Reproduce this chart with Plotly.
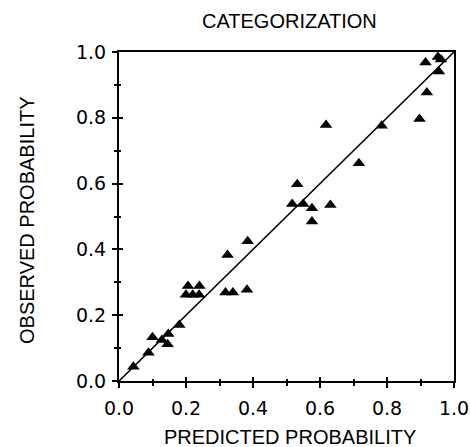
import plotly.graph_objects as go

predicted = [0.043, 0.088, 0.100, 0.128, 0.147, 0.145, 0.180, 0.200, 0.206, 0.220,
             0.240, 0.239, 0.318, 0.324, 0.340, 0.382, 0.384, 0.517, 0.532, 0.550,
             0.576, 0.576, 0.618, 0.631, 0.716, 0.784, 0.897, 0.915, 0.919, 0.952,
             0.961, 0.955]
observed = [0.043, 0.086, 0.133, 0.125, 0.143, 0.112, 0.170, 0.262, 0.289, 0.262,
            0.289, 0.262, 0.269, 0.383, 0.269, 0.277, 0.425, 0.538, 0.598, 0.538,
            0.525, 0.485, 0.778, 0.535, 0.662, 0.776, 0.796, 0.968, 0.877, 0.985,
            0.977, 0.941]
diag = [0.0, 1.0]
tick_vals = [0.0, 0.2, 0.4, 0.6, 0.8, 1.0]
tick_text = ["0.0", "0.2", "0.4", "0.6", "0.8", "1.0"]

FONT = "Liberation Sans, Arial, sans-serif"
TICKFONT = "DejaVu Sans, sans-serif"

ML, MR, MT, MB = 119, 16, 52, 66
W, H = 470, 447

fig = go.Figure()
fig.add_trace(go.Scatter(x=diag, y=diag, mode="lines",
                         line=dict(color="black", width=1.6), hoverinfo="skip"))
fig.add_trace(go.Scatter(x=predicted, y=observed, mode="markers",
                         marker=dict(symbol="triangle-up", size=11, color="black",
                                     line=dict(width=0))))
# overlay trace so the inside-tick axes are drawn
fig.add_trace(go.Scatter(x=[0.5], y=[0.5], xaxis="x2", yaxis="y2", mode="markers",
                         marker=dict(opacity=0), showlegend=False, hoverinfo="skip"))

axis_common = dict(range=[0, 1], showgrid=False, zeroline=False,
                   linecolor="black", linewidth=2, mirror=True,
                   ticks="outside", ticklen=5, tickwidth=1.5, tickcolor="black",
                   tickvals=tick_vals, ticktext=tick_text,
                   ticklabeloverflow="allow", automargin=False,
                   tickfont=dict(family=TICKFONT, size=19, color="black"),
                   minor=dict(dtick=0.1, ticks="outside", ticklen=3,
                              tickwidth=1.5, tickcolor="black"))
inner_common = dict(range=[0, 1], showgrid=False, zeroline=False, showline=False,
                    ticks="inside", ticklen=4, tickwidth=1.5, tickcolor="black",
                    tickvals=tick_vals, showticklabels=False, automargin=False,
                    minor=dict(dtick=0.1, ticks="inside", ticklen=2,
                               tickwidth=1.5, tickcolor="black"))

fig.update_layout(
    width=W, height=H,
    margin=dict(l=ML, r=MR, t=MT, b=MB, autoexpand=False),
    paper_bgcolor="white", plot_bgcolor="white",
    showlegend=False,
    xaxis=dict(**axis_common, ticklabelstandoff=4),
    yaxis=dict(**axis_common, ticklabelstandoff=2),
    xaxis2=dict(**inner_common, overlaying="x", side="bottom", anchor="y2"),
    yaxis2=dict(**inner_common, overlaying="y", side="left", anchor="x2"),
    annotations=[
        dict(text="CATEGORIZATION", x=289, y=21, showarrow=False,
             font=dict(family=FONT, size=20, color="black")),
        dict(text="PREDICTED PROBABILITY", x=290, y=437, showarrow=False,
             font=dict(family=FONT, size=20, color="black")),
        dict(text="OBSERVED PROBABILITY", x=27, y=220, showarrow=False, textangle=-90,
             font=dict(family=FONT, size=20, color="black")),
    ],
)
# convert pixel-based annotation positions to paper coords
pw = W - ML - MR
ph = H - MT - MB
for a in fig.layout.annotations:
    px, py = a.x, a.y
    a.xref = "paper"
    a.yref = "paper"
    a.x = (px - ML) / pw
    a.y = (H - MB - py) / ph
    a.xanchor = "center"
    a.yanchor = "middle"

fig.write_html("out.html")
